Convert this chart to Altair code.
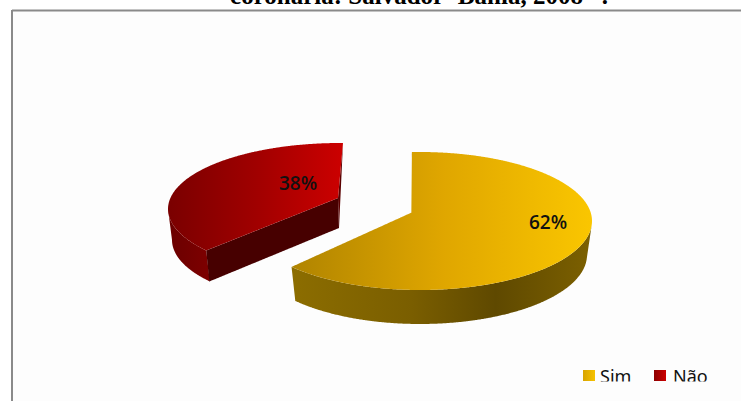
import numpy as np
import pandas as pd
import altair as alt

# Chart values
categories = ["Sim", "Não"]
shares = [62, 38]
title_text = "coronária: Salvador- Bahia, 2008 *."

W, H = 741, 401
X = alt.Scale(domain=[0, W], range=[0, W])
Y = alt.Scale(domain=[H, 0], range=[H, 0])


def ellipse(cx, cy, rx, ry, t):
    t = np.radians(t)
    return np.column_stack([cx + rx * np.sin(t), cy - ry * np.cos(t)])


def envelope(poly):
    """Turn a polygon into x / top / bottom columns for an area mark."""
    p = np.asarray(poly, float)
    q = np.roll(p, -1, axis=0)
    xs = np.unique(np.concatenate([np.arange(np.ceil(p[:, 0].min()), p[:, 0].max(), 1.0), p[:, 0]]))
    rows = []
    for x in xs:
        hits = []
        for (x0, y0), (x1, y1) in zip(p, q):
            lo, hi = min(x0, x1), max(x0, x1)
            if lo <= x <= hi:
                if x1 == x0:
                    hits += [y0, y1]
                else:
                    hits.append(y0 + (y1 - y0) * (x - x0) / (x1 - x0))
        if hits:
            rows.append((x, min(hits), max(hits)))
    return pd.DataFrame(rows, columns=["x", "top", "bottom"])


def gradient(stops):
    return alt.LinearGradient(
        gradient="linear", x1=0, x2=1, y1=0, y2=0,
        stops=[alt.GradientStop(color=c, offset=o) for o, c in stops],
    )


def face(poly, stops):
    return alt.Chart(envelope(poly)).mark_area(
        color=gradient(stops) if isinstance(stops, list) else stops
    ).encode(
        x=alt.X("x:Q", scale=X, axis=None),
        y=alt.Y("top:Q", scale=Y, axis=None),
        y2="bottom:Q",
    )


# Sweep of each wedge on the tilted ellipse; the tilt stretches the larger slice.
gold_start = -2.7
gold_end = gold_start + shares[0] / 100 * 360 * 1.035
red_start = 1.0
red_end = red_start - shares[1] / 100 * 360 * 0.95

# Gold wedge
g_top = dict(cx=420, cy=221, rx=172, ry=69)
g_low = dict(cx=420, cy=255, rx=167, ry=69)
g_apex = (415, 211)
g_arc = ellipse(**g_top, t=np.linspace(gold_start, gold_end, 240))
g_wall_top = ellipse(**g_top, t=np.linspace(93, gold_end, 120))
g_wall_low = ellipse(**g_low, t=np.linspace(93, gold_end, 120))
g_wall = np.vstack([g_wall_top, g_wall_low[::-1]])
g_sliver = [g_arc[0], g_apex, (g_apex[0] - 2, g_apex[1])]

# Red wedge
r_top = dict(cx=340, cy=209, rx=172, ry=66)
r_low = dict(cx=342, cy=240, rx=170, ry=66)
r_apex = (338, 198)
r_depth = 30
r_arc = ellipse(**r_top, t=np.linspace(red_start, red_end, 160))
r_tip = r_arc[-1]
r_wall_top = ellipse(**r_top, t=np.linspace(-90, red_end, 60))
r_wall_low = ellipse(**r_low, t=np.linspace(-90, red_end, 60))
r_wall = np.vstack([r_wall_top, r_wall_low[::-1]])
r_inner = [r_apex, r_tip, (r_tip[0] + 3, r_tip[1] + 31), (r_apex[0] + 1, r_apex[1] + r_depth)]
r_sliver = [r_arc[0], (r_apex[0] + 1, r_apex[1] + r_depth), r_apex]

layers = [
    alt.Chart(pd.DataFrame({"x": [12], "x2": [W], "y": [11], "y2": [H]})).mark_rect(color="#fdfdfd").encode(
        x=alt.X("x:Q", scale=X, axis=None), x2="x2:Q",
        y=alt.Y("y:Q", scale=Y, axis=None), y2="y2:Q",
    ),
    alt.Chart(pd.DataFrame({"x": [0], "x2": [0]})).mark_rule(color="#8a8a8a", strokeWidth=2).encode(
        x=alt.value(12), x2=alt.value(W), y=alt.value(10.5)
    ),
    alt.Chart(pd.DataFrame({"x": [0], "x2": [0]})).mark_rule(color="#8a8a8a", strokeWidth=2).encode(
        x=alt.value(12), y=alt.value(10), y2=alt.value(H)
    ),
    # Red wedge, back to front
    face(r_sliver, "#5a0000"),
    face(r_wall, [(0, "#6a0000"), (1, "#7e0000")]),
    face(r_inner, "#470000"),
    face(np.vstack([r_arc, [r_apex]]), [(0, "#7a0000"), (0.5, "#a00000"), (1, "#cc0000")]),
    # Gold wedge, back to front
    face(g_sliver, "#5c4500"),
    face(g_wall, [(0, "#8c6d00"), (0.4, "#7a5e00"), (0.68, "#5f4900"), (1, "#7c6000")]),
    face(np.vstack([g_arc, [g_apex]]), [(0, "#b08400"), (0.5, "#dfa600"), (1, "#fac600")]),
]

# Percentage labels
label_df = pd.DataFrame({
    "x": [548, 298], "y": [223, 184], "label": [f"{v}%" for v in shares],
})
layers.append(
    alt.Chart(label_df).mark_text(font="Open Sans", fontSize=19, fontWeight=600, color="#111111").encode(
        x=alt.X("x:Q", scale=X, axis=None), y=alt.Y("y:Q", scale=Y, axis=None), text="label:N"
    )
)

# Legend
swatches = [
    ([(0, "#d8a400"), (1, "#f6c200")], 583, categories[0], 600),
    ([(0, "#8c0000"), (1, "#cc0000")], 654, categories[1], 673),
]
for stops, sx, name, tx in swatches:
    layers.append(
        alt.Chart(pd.DataFrame({"x": [sx], "x2": [sx + 12], "y": [370], "y2": [381]})).mark_rect(color=gradient(stops)).encode(
            x=alt.X("x:Q", scale=X, axis=None), x2="x2:Q",
            y=alt.Y("y:Q", scale=Y, axis=None), y2="y2:Q",
        )
    )
    layers.append(
        alt.Chart(pd.DataFrame({"x": [tx], "y": [383], "t": [name]})).mark_text(
            font="Noto Sans", fontSize=18, align="left", baseline="alphabetic", color="#111111"
        ).encode(x=alt.X("x:Q", scale=X, axis=None), y=alt.Y("y:Q", scale=Y, axis=None), text="t:N")
    )
layers.append(
    alt.Chart(pd.DataFrame({"x": [590], "x2": [W], "y": [381.5], "y2": [395]})).mark_rect(color="#fdfdfd").encode(
        x=alt.X("x:Q", scale=X, axis=None), x2="x2:Q",
        y=alt.Y("y:Q", scale=Y, axis=None), y2="y2:Q",
    )
)

# Heading, running off the top edge of the page
layers.append(
    alt.Chart(pd.DataFrame({"x": [419], "y": [4], "t": [title_text]})).mark_text(
        font="Liberation Serif", fontSize=25, fontWeight="bold", align="center", baseline="alphabetic", color="black"
    ).encode(x=alt.X("x:Q", scale=X, axis=None), y=alt.Y("y:Q", scale=Y, axis=None), text="t:N")
)

chart = alt.layer(*layers).properties(
    width=W, height=H, padding=0, autosize=alt.AutoSizeParams(type="none"), background="white"
).configure_view(stroke=None)

chart.save("out.html", embed_options={"renderer": "svg", "actions": False})
